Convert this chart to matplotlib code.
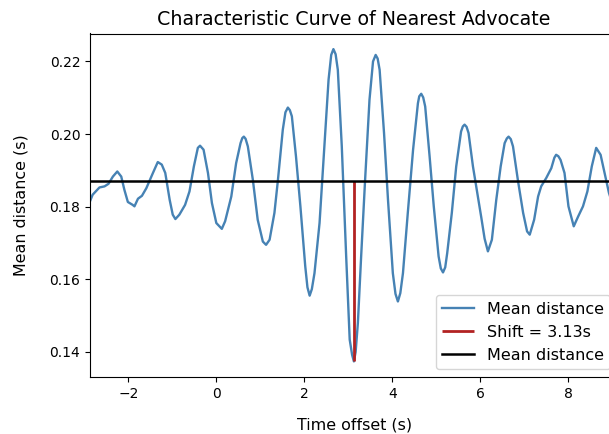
import matplotlib
matplotlib.use("Agg")
import matplotlib.pyplot as plt

OUTPUT_PATH = "out.png"

# time offsets (s) and mean distances (s)
time_offset = [
    -2.87, -2.81, -2.655, -2.54, -2.45, -2.35, -2.25, -2.16, -2.09, -2.01,
    -1.90, -1.86, -1.78, -1.69, -1.59, -1.44, -1.33, -1.24, -1.16, -1.06,
    -0.99, -0.93, -0.84, -0.71, -0.61, -0.51, -0.42, -0.37, -0.29, -0.19,
    -0.10, 0.00, 0.07, 0.125, 0.20, 0.34, 0.45, 0.55, 0.59, 0.625,
    0.665, 0.716, 0.83, 0.94, 1.057, 1.13, 1.21, 1.32, 1.40, 1.51,
    1.57, 1.625, 1.67, 1.716, 1.81, 1.91, 2.02, 2.07, 2.12, 2.17,
    2.23, 2.345, 2.44, 2.55, 2.61, 2.66, 2.71, 2.76, 2.85, 2.95,
    3.03, 3.085, 3.125, 3.165, 3.216, 3.29, 3.38, 3.48, 3.56, 3.62,
    3.665, 3.71, 3.81, 3.90, 4.01, 4.07, 4.125, 4.18, 4.24, 4.35,
    4.47, 4.58, 4.61, 4.655, 4.70, 4.745, 4.845, 4.94, 5.05, 5.10,
    5.15, 5.20, 5.245, 5.35, 5.45, 5.56, 5.60, 5.64, 5.685, 5.73,
    5.83, 5.94, 6.02, 6.095, 6.17, 6.26, 6.36, 6.46, 6.55, 6.60,
    6.64, 6.69, 6.74, 6.85, 6.97, 7.06, 7.12, 7.22, 7.31, 7.38,
    7.495, 7.61, 7.68, 7.72, 7.77, 7.82, 7.91, 8.00, 8.12, 8.22,
    8.33, 8.43, 8.53, 8.63, 8.73, 8.82, 8.92, 9.02, 9.13,
]
mean_distance = [
    0.1815, 0.1833, 0.1853, 0.1856, 0.1863, 0.1883, 0.1897, 0.1883, 0.1847, 0.1813,
    0.1805, 0.1801, 0.1822, 0.1830, 0.1851, 0.1893, 0.1923, 0.1916, 0.1893, 0.1819,
    0.1778, 0.1766, 0.1778, 0.1805, 0.1842, 0.1911, 0.1962, 0.1968, 0.1957, 0.1893,
    0.1810, 0.1755, 0.1746, 0.1739, 0.1760, 0.1828, 0.1920, 0.1975, 0.1989, 0.1993,
    0.1987, 0.1966, 0.1874, 0.1764, 0.1704, 0.1695, 0.1709, 0.1783, 0.1874, 0.2012,
    0.2060, 0.2073, 0.2066, 0.2049, 0.1938, 0.1801, 0.1636, 0.1578, 0.1555, 0.1573,
    0.1617, 0.1755, 0.1938, 0.2150, 0.2218, 0.2234, 0.2220, 0.2177, 0.1967, 0.1663,
    0.1434, 0.1392, 0.1374, 0.1400, 0.1480, 0.1663, 0.1874, 0.2095, 0.2200, 0.2218,
    0.2208, 0.2177, 0.2003, 0.1819, 0.1617, 0.1560, 0.1539, 0.1562, 0.1617, 0.1783,
    0.1957, 0.2085, 0.2104, 0.2111, 0.2101, 0.2076, 0.1939, 0.1801, 0.1663, 0.1630,
    0.1619, 0.1633, 0.1672, 0.1783, 0.1911, 0.2007, 0.2021, 0.2026, 0.2020, 0.2003,
    0.1911, 0.1830, 0.1770, 0.1712, 0.1677, 0.1709, 0.1819, 0.1911, 0.1975, 0.1988,
    0.1993, 0.1986, 0.1966, 0.1874, 0.1783, 0.1732, 0.1723, 0.1764, 0.1828, 0.1856,
    0.1879, 0.1906, 0.1935, 0.1943, 0.1939, 0.1929, 0.1893, 0.1801, 0.1746, 0.1773,
    0.1801, 0.1842, 0.1911, 0.1962, 0.1943, 0.1893, 0.1838, 0.1800, 0.1780,
]

shift = 3.13
overall_mean = 0.187
min_mean = 0.1374


def plot_curve():
    fig = plt.figure(figsize=(6.09, 4.34), dpi=100)
    ax = fig.add_axes([90 / 609, 57 / 434, 528.2 / 609, 343.5 / 434])

    ax.plot(time_offset, mean_distance, color="steelblue", linewidth=1.7,
            label="Mean distance")
    ax.vlines(shift, ymin=min_mean, ymax=overall_mean, color="firebrick",
              linewidth=2, label=f"Shift = {shift:.2f}s")
    ax.axhline(overall_mean, color="black", linewidth=1.8, label="Mean distance")

    ax.set_xlim(shift - 6, shift + 6)
    ax.set_title("Characteristic Curve of Nearest Advocate", fontsize=13.7)
    ax.set_xlabel("Time offset (s)", fontsize=11.4, labelpad=12)
    ax.set_ylabel("Mean distance (s)", fontsize=11.4, labelpad=15)
    ax.legend(loc="lower right", fontsize=11.5)

    fig.savefig(OUTPUT_PATH, dpi=100)
    plt.close(fig)


if __name__ == "__main__":
    plot_curve()
